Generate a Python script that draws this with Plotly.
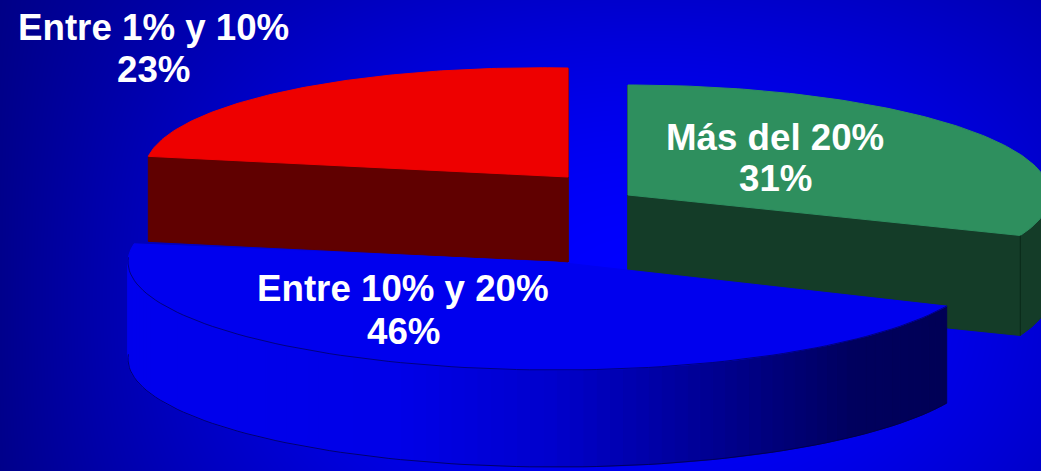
import numpy as np
import plotly.graph_objects as go

# --- data
categories = ["Más del 20%", "Entre 10% y 20%", "Entre 1% y 10%"]
values = [31, 46, 23]

# --- drawing parameters (pixel space of the picture)
W, H = 1041, 471
cx_list = [628, 556, 568]
cy_list = [195, 262, 177]
rx_list = [422, 428, 423]
ry_list = [110, 108, 109]
depth_list = [100, 97, 85]
turn_list = [0, 2.5, 0]
shear_list = [0, 0, 0.0167]
top_colors = ["#2E8F5E", "#0000EE", "#EE0000"]
wall_colors = ["#143C28", None, "#600000"]
label_x = [775, 403, 153]
name_y = [137, 288, 27]
pct_y = [178, 331, 69]


def pt(i, deg, drop=0.0):
    t = np.radians(np.asarray(deg) + turn_list[i])
    x = cx_list[i] + rx_list[i] * np.sin(t)
    y = cy_list[i] - ry_list[i] * np.cos(t) + drop
    y = y + shear_list[i] * np.minimum(x - cx_list[i], 0)
    return x, y


def poly(xs, ys, color, line=None, lw=1):
    return go.Scatter(x=list(xs), y=list(ys), mode="lines", fill="toself", fillcolor=color,
                      line=dict(color=line or color, width=lw), hoverinfo="skip", showlegend=False)


edges = np.concatenate([[0], np.cumsum(values)]) * 3.6
fig = go.Figure()

# background gradient
gx = np.linspace(0, W, 53)
gy = np.linspace(0, H, 25)
X, Y = np.meshgrid(gx, gy)
DX = ((X - 650) / 650) ** 2
DY = ((Y - 300) / 300) ** 2
Z = 255 - 115 * DX - 50 * DY * (1 - 0.9 * DX)
fig.add_trace(go.Heatmap(x=gx, y=gy, z=Z, zmin=0, zmax=255, zsmooth="best", showscale=False,
                         colorscale=[[0, "rgb(0,0,0)"], [1, "rgb(0,0,255)"]], hoverinfo="skip"))


def add_flat_slice(i):
    a0, a1 = edges[i], edges[i + 1]
    d = depth_list[i]
    lo, hi = max(a0, 90), min(a1, 270)
    if hi > lo:
        th = np.linspace(lo, hi, 60)
        x, y = pt(i, th)
        xb, yb = pt(i, th[::-1], d)
        fig.add_trace(poly(np.r_[x, xb], np.r_[y, yb], wall_colors[i]))
    for a in (a0, a1):
        xa, ya = pt(i, a)
        xc, yc = cx_list[i], cy_list[i]
        fig.add_trace(poly([xc, xa, xa, xc, xc], [yc, ya, ya + d, yc + d, yc], wall_colors[i]))
    th = np.linspace(a0, a1, 120)
    x, y = pt(i, th)
    fig.add_trace(poly(np.r_[cx_list[i], x, cx_list[i]], np.r_[cy_list[i], y, cy_list[i]], top_colors[i]))


add_flat_slice(0)
xa, ya = pt(0, edges[1])
fig.add_trace(go.Scatter(x=[xa, xa], y=[ya, ya + depth_list[0]], mode="lines",
                         line=dict(color="#0B2A1A", width=1), hoverinfo="skip", showlegend=False))
add_flat_slice(2)

# blue slice: shaded wall in strips
i = 1
a0, a1 = edges[1], edges[2]
d = depth_list[1]
wall_x = [128, 400, 550, 700, 850, 948]
wall_b = [238, 232, 205, 150, 95, 85]
th = np.linspace(a0, min(a1, 270), 90)
for t0, t1 in zip(th[:-1], th[1:]):
    x0, y0 = pt(i, t0)
    x1, y1 = pt(i, t1)
    b = int(np.interp((x0 + x1) / 2, wall_x, wall_b))
    c = f"rgb(0,0,{b})"
    fig.add_trace(poly([x0, x1, x1, x0, x0], [y0, y1, y1 + d, y0 + d, y0], c))
xr, yr = pt(i, th)
th_all = np.linspace(a0, a1, 160)
x, y = pt(i, th_all)
fig.add_trace(poly(np.r_[cx_list[1], x, cx_list[1]], np.r_[cy_list[1], y, cy_list[1]], top_colors[1]))
fig.add_trace(go.Scatter(x=xr, y=yr, mode="lines", line=dict(color="rgba(0,0,90,0.75)", width=1),
                         hoverinfo="skip", showlegend=False))
fig.add_trace(go.Scatter(x=xr, y=yr + d, mode="lines", line=dict(color="rgba(0,0,70,0.75)", width=1),
                         hoverinfo="skip", showlegend=False))

font = dict(family="Liberation Sans, Arial", size=36.7, color="white", weight="bold")
for name, v, lx, y1, y2 in zip(categories, values, label_x, name_y, pct_y):
    fig.add_annotation(x=lx, y=y1, xref="x", yref="y", text=name, showarrow=False, font=font)
    fig.add_annotation(x=lx, y=y2, xref="x", yref="y", text=f"{v}%", showarrow=False, font=font)

fig.update_layout(width=W, height=H, margin=dict(l=0, r=0, t=0, b=0), showlegend=False,
                  paper_bgcolor="#0000CC", plot_bgcolor="#0000CC",
                  xaxis=dict(range=[0, W], visible=False, fixedrange=True),
                  yaxis=dict(range=[H, 0], visible=False, fixedrange=True))
fig.write_html("out.html", config={"displayModeBar": False},
               post_script="document.body.style.margin='0';document.body.style.overflow='hidden';")
